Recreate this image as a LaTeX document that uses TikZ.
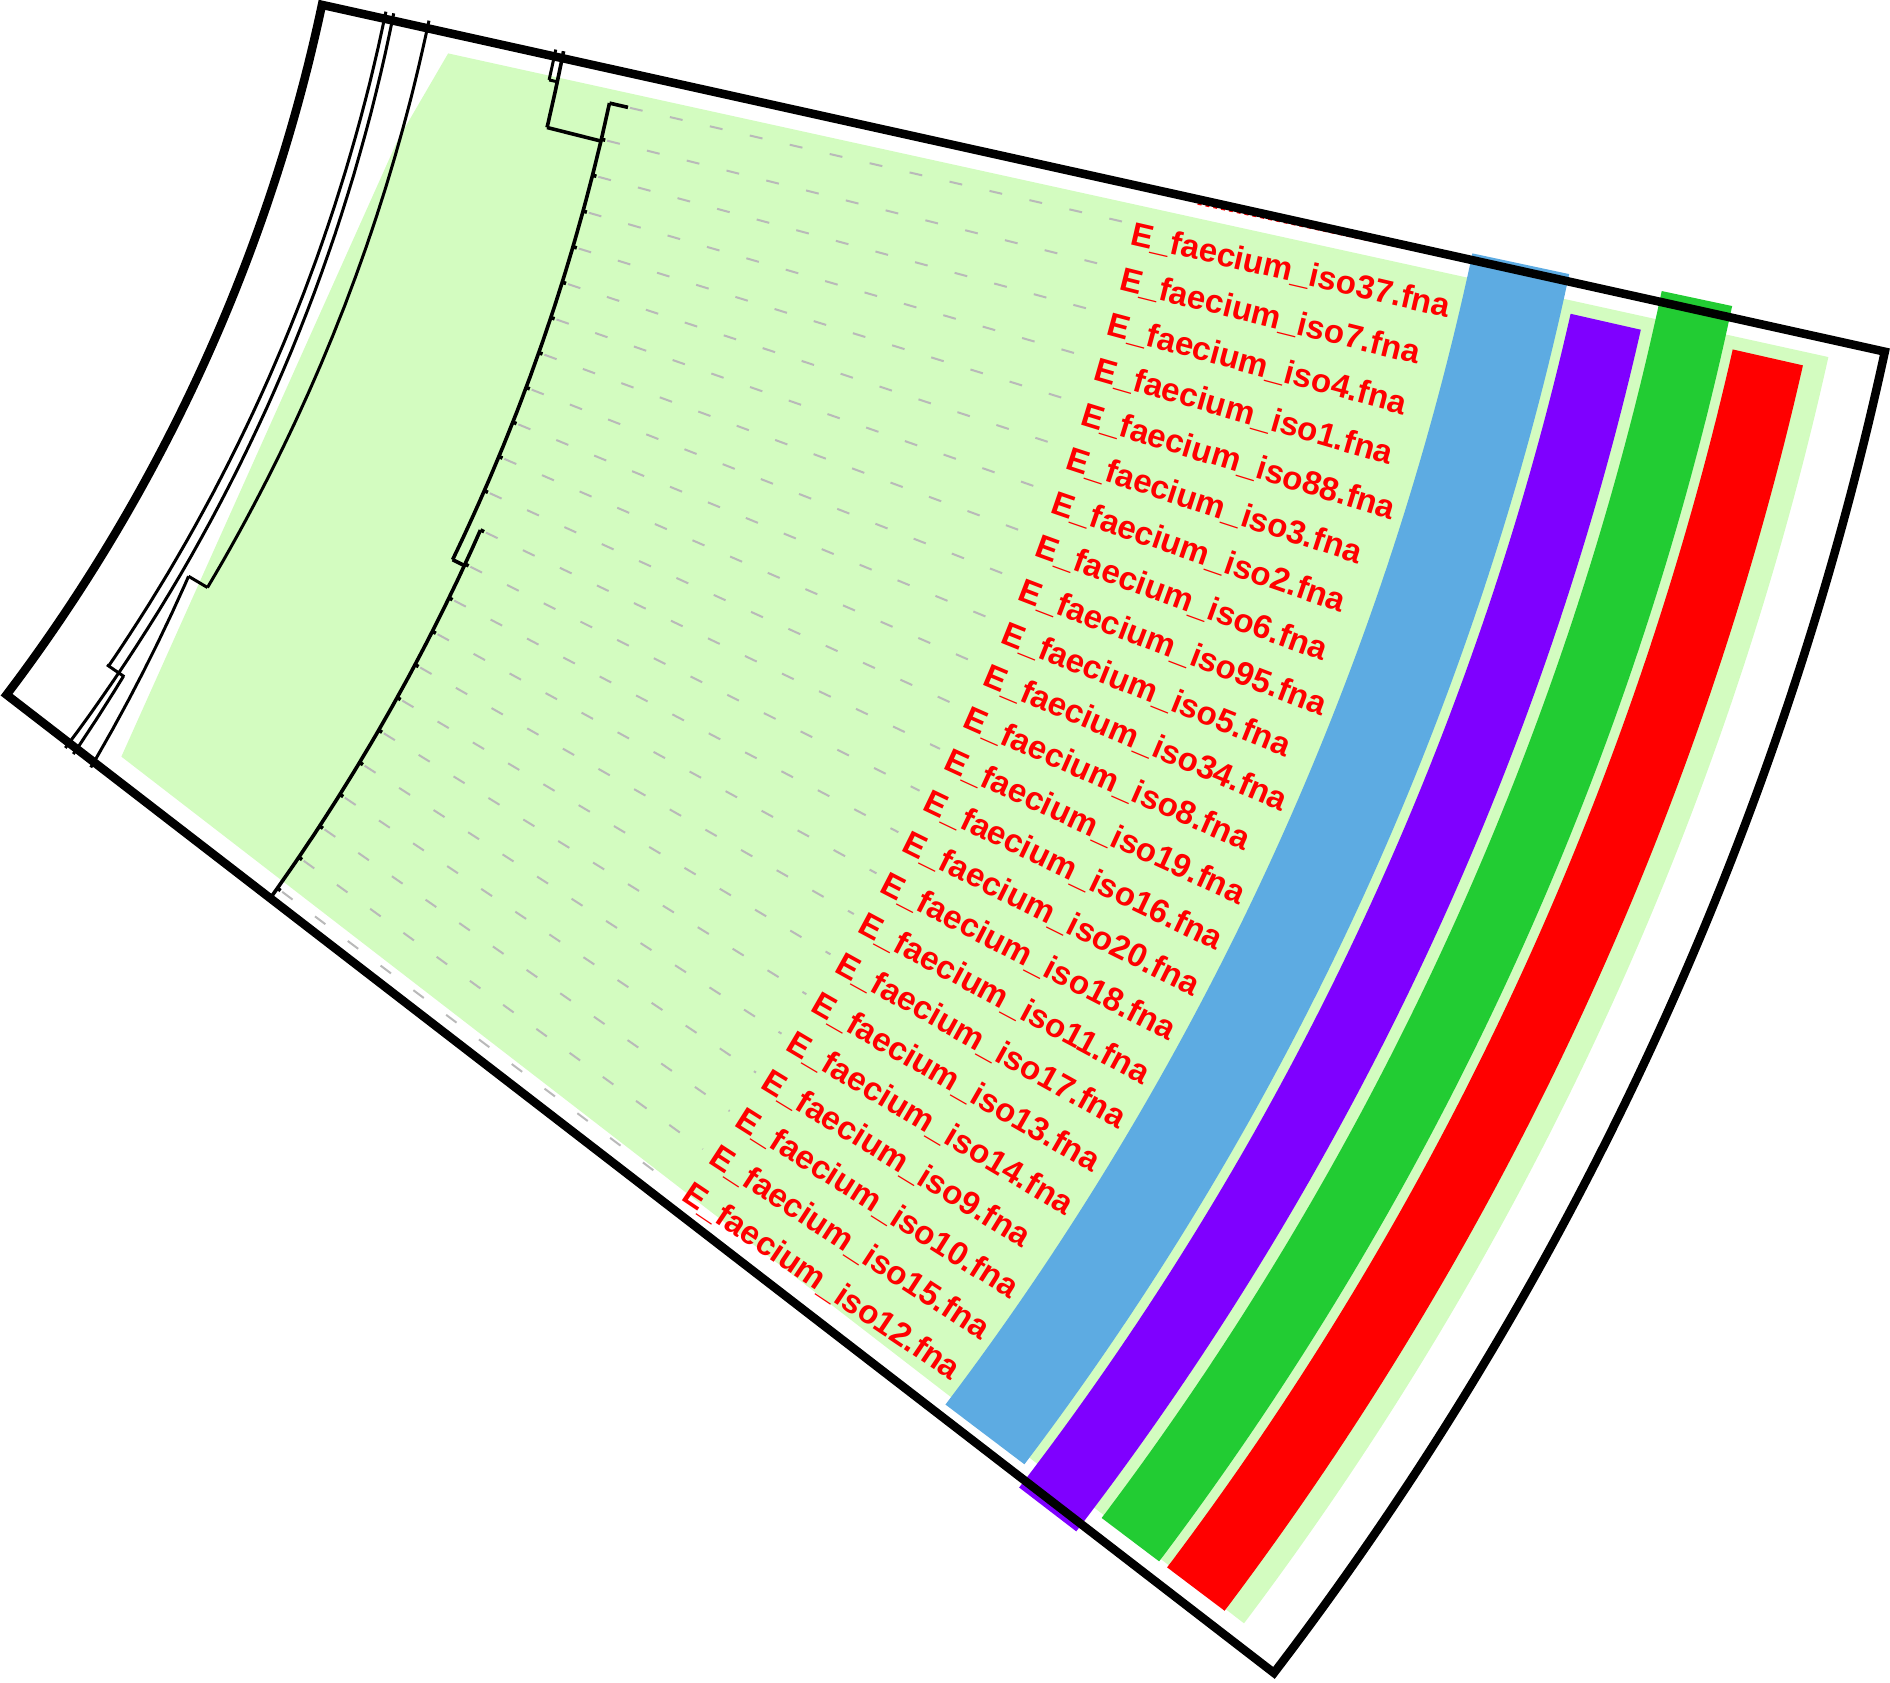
\documentclass[tikz,border=0pt]{standalone}
\usepackage{fontspec}
\setmainfont{Liberation Sans}
\usepackage{xcolor}

\definecolor{hilite}{RGB}{211,252,192}
\definecolor{bandblue}{RGB}{93,171,226}
\definecolor{bandpurple}{RGB}{127,0,255}
\definecolor{bandgreen}{RGB}{34,204,51}
\definecolor{bandred}{RGB}{255,0,0}
\definecolor{tipred}{RGB}{255,0,0}

% ring tile: colour, from angle, to angle, inner radius, outer radius
\newcommand{\ringtile}[5]{%
  \fill[#1] (-#2:#4) arc[start angle=-#2, end angle=-#3, radius=#4pt]
    -- (-#3:#5) arc[start angle=-#3, end angle=-#2, radius=#5pt] -- cycle;}
% branch arc: from angle, radius, to angle, radius
\newcommand{\brarc}[5][treeline]{%
  \draw[#1] plot[domain=#2:#4, samples=40] ({-\x}:{#3+(#5-#3)*(\x-#2)/(#4-#2)});}

\begin{document}
\begin{tikzpicture}[x=1pt, y=1pt,
        treeline/.style={line width=3.6pt},
        thinline/.style={line width=3pt},
        leafdash/.style={gray!55, line width=2pt, dash pattern=on 13pt off 28pt},
        tiplab/.style={text=tipred, font=\fontsize{33}{36}\selectfont\bfseries, inner sep=0pt, anchor=north west},
        frame/.style={line width=8.5pt, line join=miter}
    ]
    \useasboundingbox (0,0) rectangle (1890,-1682);
    \begin{scope}[shift={(-1382,357)}]
    % Clade highlight
    \fill[hilite] (-12.64:1875.7) -- (-12.54:3289)
        arc[start angle=-12.54, end angle=-37.02, radius=3289pt]
        -- (-36.53:1871) -- (-15.6:1848) -- cycle;

    % Rings
    \ringtile{bandblue}{12.07}{37.12}{2919}{3018}
    \ringtile{bandpurple}{12.80}{37.53}{3028}{3100}
    \ringtile{bandgreen}{12.02}{37.05}{3112}{3184}
    \ringtile{bandred}{12.78}{37.05}{3194}{3266}

    % Deep branches
    \brarc[thinline]{11.78}{1806}{34.46}{1808}
    \draw[thinline] (-34.46:1806) -- (-34.46:1827);
    \brarc[thinline]{34.46}{1826}{37.36}{1831}
    \brarc[thinline]{11.78}{1814}{37.36}{1821}
    \brarc[thinline]{11.78}{1850}{30.72}{1849}
    \draw[thinline] (-30.72:1849) -- (-30.72:1827);
    \brarc[thinline]{30.72}{1827}{37.36}{1853}

    % Clade
    \brarc[thinline]{11.85}{1980}{12.75}{1980}
    \draw[thinline] (-12.75:1980) -- (-12.75:1988);
    \brarc{11.85}{1988}{14.1}{1989}
    \draw[treeline] (-14.1:1989) -- (-14.1:2045);
    \brarc{13.01}{2044}{26.55}{2051}
    \draw[treeline] (-26.55:2051) -- (-26.55:2065);
    \brarc{25.47}{2063}{37.2}{2075}

    % Tips and labels
    \foreach \iso [count=\k] in {37,7,4,1,88,3,2,6,95,5,34,8,19,16,20,18,11,17,13,14,9,10,15,12} {
        \pgfmathsetmacro\ang{13.01+(\k-1)*1.038}
        \pgfmathsetmacro\rbase{\k<13 ? 2044+7*(\ang-13.01)/13.54 : 2063+12*(\ang-25.47)/11.73}
        \pgfmathsetmacro\rtip{\k==1 ? \rbase+19 : \rbase+4}
        \pgfmathsetmacro\lang{\ang-0.08-0.3*((\k-1)/23)^2}
        \pgfmathsetmacro\rot{\ang-3*((\k-1)/23)^2}
        \draw[treeline] (-\ang:\rbase) -- (-\ang:\rtip);
        \coordinate (tip\k) at (-\ang:{\rtip+2});
        \coordinate (dend\k) at (-\ang:2572);
        \draw[leafdash] (tip\k) -- (dend\k);
        \node[tiplab, rotate=-\rot] (lab\k) at (-\lang:2582) {E\_faecium\_iso\iso.fna};
    }

    % Cropped tip under the frame
    \draw[tipred, line width=1.5pt, dash pattern=on 4pt off 4pt] (-12.27:2640) -- (-12.25:2912);

    % Frame
    \draw[frame] (-11.99:1742) -- (-12.24:3343)
        arc[start angle=-12.24, end angle=-37.39, radius=3343pt]
        -- (-37.14:1742)
        arc[start angle=-37.14, end angle=-11.99, radius=1742pt] -- cycle;
    \end{scope}
\end{tikzpicture}
\end{document}
